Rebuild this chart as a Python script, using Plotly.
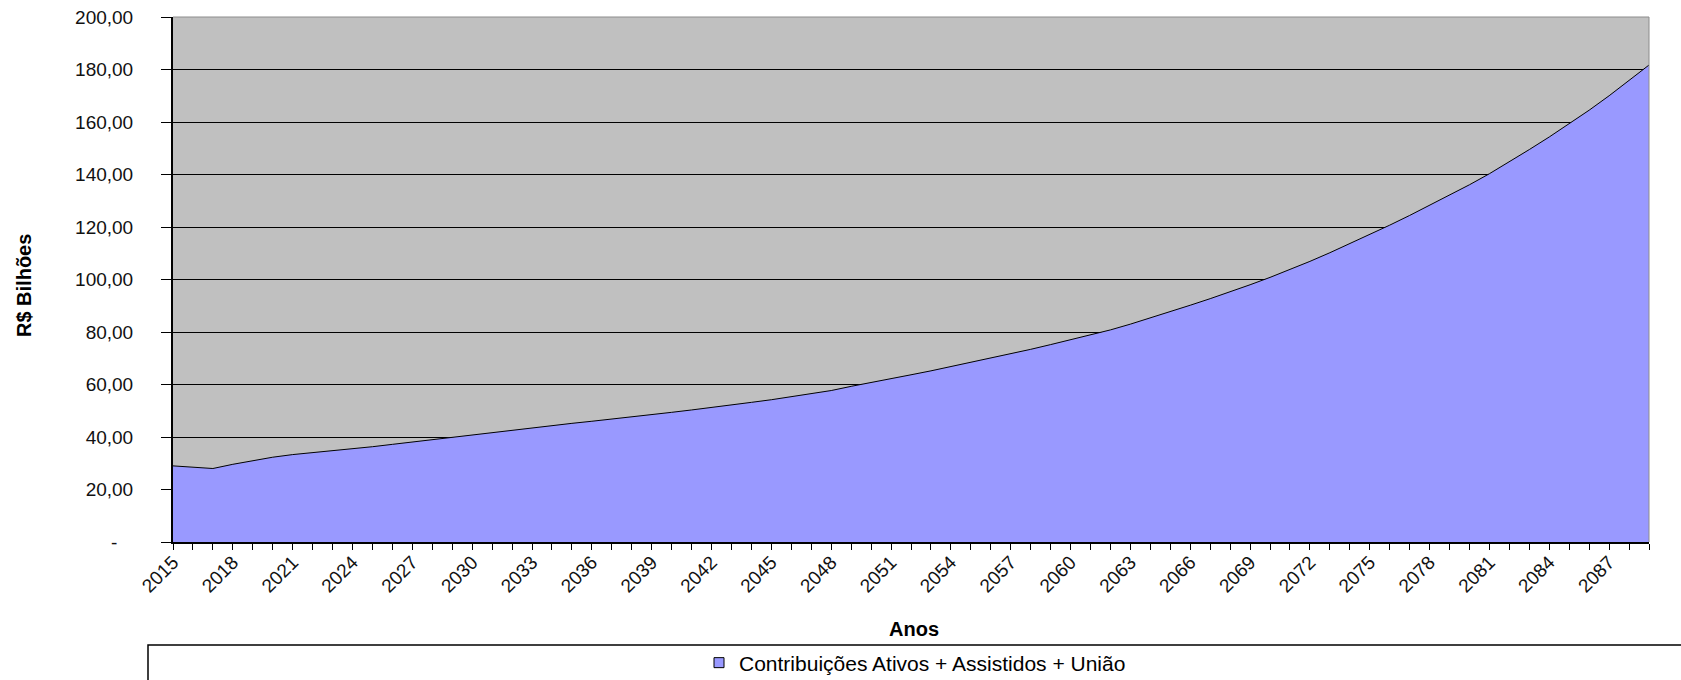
import plotly.graph_objects as go

years = list(range(2015, 2090))
contribuicoes = [
    29.0, 28.5, 28.0, 29.6, 31.0, 32.3, 33.3, 34.0, 34.7, 35.5,
    36.3, 37.2, 38.1, 39.0, 40.0, 40.9, 41.8, 42.7, 43.6, 44.4,
    45.2, 46.0, 46.8, 47.6, 48.5, 49.4, 50.3, 51.2, 52.2, 53.2,
    54.2, 55.3, 56.5, 57.7, 59.3, 60.7, 62.2, 63.7, 65.2, 66.8,
    68.4, 70.0, 71.7, 73.4, 75.2, 77.0, 78.8, 80.8, 83.0, 85.3,
    87.7, 90.2, 92.7, 95.3, 98.0, 100.8, 103.8, 106.9, 110.2, 113.6,
    117.1, 120.7, 124.4, 128.2, 132.1, 136.1, 140.3, 144.8, 149.5, 154.3,
    159.3, 164.5, 170.0, 175.8, 181.7,
]
x_tickvals = list(range(2015, 2088, 3))
x_ticktext = [str(v) for v in x_tickvals]
y_tickvals = [0, 20, 40, 60, 80, 100, 120, 140, 160, 180, 200]
y_ticktext = ["-\u00a0\u00a0\u00a0", "20,00", "40,00", "60,00", "80,00", "100,00",
              "120,00", "140,00", "160,00", "180,00", "200,00"]
series_name = "Contribuições Ativos + Assistidos + União"

W, H = 1681, 680
L, R, T, B = 173, 1649, 17, 542
pw, ph = R - L, B - T

def px_x(p):
    return (p - L) / pw

def px_y(p):
    return (B - p) / ph

FONT = "Liberation Sans, Arial, sans-serif"

fig = go.Figure()
fig.add_trace(go.Scatter(
    x=years, y=contribuicoes, mode="lines", fill="tozeroy",
    fillcolor="#9999FF", line=dict(color="#000000", width=1),
    name=series_name, showlegend=False, hoverinfo="x+y",
))
fig.add_trace(go.Scatter(
    x=[None], y=[None], mode="markers", name=series_name,
    marker=dict(symbol="square", size=10, color="#9999FF",
                line=dict(color="#000000", width=1)),
    showlegend=True,
))

fig.update_layout(
    width=W, height=H,
    margin=dict(l=L, r=W - R, t=T, b=H - B, pad=0, autoexpand=False),
    paper_bgcolor="white", plot_bgcolor="#C0C0C0",
    font=dict(family=FONT, size=19, color="#000000"),
    showlegend=True,
    legend=dict(
        xref="container", yref="container",
        x=915 / W, y=1 - 663 / H, xanchor="center", yanchor="middle",
        orientation="h", bgcolor="rgba(0,0,0,0)", borderwidth=0,
        font=dict(family=FONT, size=21, color="#000000"),
        itemwidth=30, tracegroupgap=0,
    ),
    xaxis=dict(
        range=[2015, 2089], tickmode="array", tickvals=x_tickvals,
        ticktext=x_ticktext, tickangle=-45, ticks="outside", ticklen=6,
        tickcolor="#000000", tickwidth=1, showgrid=False, zeroline=False,
        showline=True, linecolor="#000000", linewidth=1.5, automargin=False,
        ticklabelstandoff=-6,
        tickfont=dict(family=FONT, size=19, color="#111111"),
        minor=dict(dtick=1, tick0=2015, ticks="outside", ticklen=6,
                   tickcolor="#000000", tickwidth=1, showgrid=False),
    ),
    yaxis=dict(
        range=[0, 200], tickmode="array", tickvals=y_tickvals,
        ticktext=y_ticktext, ticks="outside", ticklen=10,
        tickcolor="#000000", tickwidth=1, showgrid=True,
        gridcolor="#000000", gridwidth=1, zeroline=False,
        showline=True, linecolor="#000000", linewidth=2, automargin=False,
        ticklabelstandoff=24,
        tickfont=dict(family=FONT, size=19, color="#111111"),
    ),
    shapes=[
        dict(type="line", xref="paper", yref="paper", x0=0, x1=1, y0=1, y1=1,
             line=dict(color="#8C8C8C", width=1), layer="above"),
        dict(type="line", xref="paper", yref="paper", x0=1, x1=1, y0=0, y1=1,
             line=dict(color="#8C8C8C", width=1), layer="above"),
        dict(type="rect", xref="paper", yref="paper",
             x0=px_x(148), x1=px_x(1700), y0=px_y(645), y1=px_y(720),
             line=dict(color="#000000", width=1.5), fillcolor="rgba(0,0,0,0)",
             layer="below"),
    ],
    annotations=[
        dict(text="<b>Anos</b>", xref="paper", yref="paper",
             x=px_x(914), y=px_y(629), xanchor="center", yanchor="middle",
             showarrow=False, font=dict(family=FONT, size=20, color="#000000")),
        dict(text="<b>R$ Bilhões</b>", xref="paper", yref="paper",
             x=px_x(24), y=px_y(286), xanchor="center", yanchor="middle",
             textangle=-90, showarrow=False,
             font=dict(family=FONT, size=20, color="#000000")),
    ],
)

fig.write_html("out.html")
